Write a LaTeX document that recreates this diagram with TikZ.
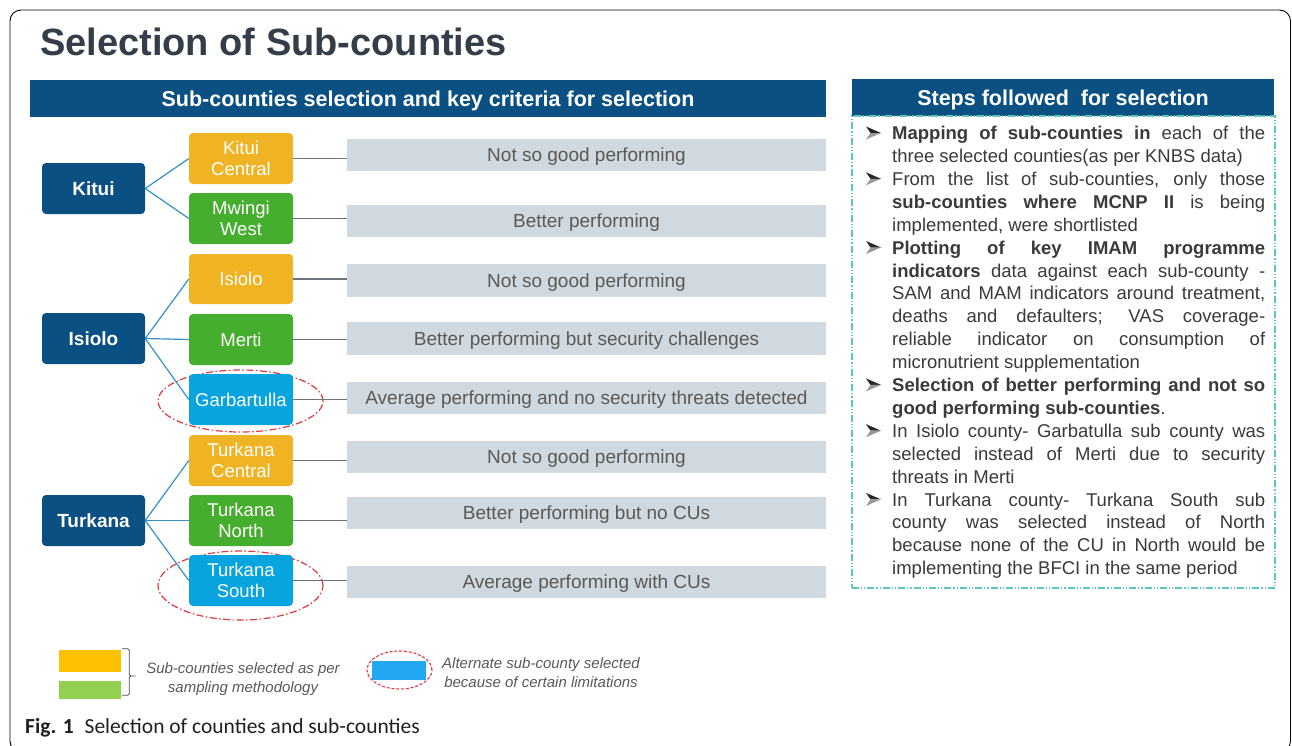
\documentclass[tikz,border=0pt]{standalone}
\usepackage{fontspec}
\setmainfont{Liberation Sans}
\newfontfamily\capfont{Carlito}
\usetikzlibrary{shapes.geometric}

\definecolor{navy}{HTML}{0B5083}
\definecolor{titlegray}{HTML}{333E48}
\definecolor{subOrange}{HTML}{EFB324}
\definecolor{subGreen}{HTML}{46AE2E}
\definecolor{subBlue}{HTML}{08A4E0}
\definecolor{barfill}{HTML}{CFD9DF}
\definecolor{bartext}{HTML}{595959}
\definecolor{linkblue}{HTML}{3591C4}
\definecolor{linegray}{HTML}{6E747A}
\definecolor{redring}{HTML}{E0393E}
\definecolor{stepteal}{HTML}{5BC8BA}
\definecolor{bodytext}{HTML}{3A3A3A}
\definecolor{legOrange}{HTML}{FFC000}
\definecolor{legGreen}{HTML}{92D050}
\definecolor{legBlue}{HTML}{22A8F3}
\definecolor{captext}{HTML}{231F20}

% room for the bullet at the start of each step; the arrowheads are drawn in TikZ
\newcommand\stepitem{\par\hangindent=26pt\hangafter=1\noindent\makebox[26pt][l]{}}

\tikzset{
  county/.style={rounded corners=4pt, fill=navy, text=white,
    font=\bfseries\fontsize{19}{21}\selectfont,
    minimum width=103pt, minimum height=51pt, inner sep=0pt},
  subbox/.style={rounded corners=4pt, text=white, align=center,
    font=\fontsize{18.5}{20.5}\selectfont,
    minimum width=104pt, minimum height=51pt, inner sep=0pt},
  crit/.style={fill=barfill, text=bartext, font=\fontsize{19}{21}\selectfont,
    text height=13.6pt, text depth=0pt,
    minimum width=479pt, minimum height=32pt, inner sep=0pt},
  link/.style={draw=linkblue, line width=1.2pt},
  tie/.style={draw=linegray, line width=1.3pt},
  ring/.style={ellipse, draw=redring, line width=1.2pt,
    dash pattern=on 7pt off 2.5pt on 1.5pt off 2.5pt, inner sep=0pt},
  hdr/.style={fill=navy, text=white, font=\bfseries\fontsize{21.5}{24}\selectfont,
    text height=15.4pt, text depth=0pt, inner sep=0pt, minimum height=37pt},
  legnote/.style={text=bartext, align=center, font=\itshape\fontsize{15}{18.5}\selectfont, inner sep=0pt},
  bulletdark/.style={fill=black!85},
  bulletlight/.style={fill=black!40},
}

\begin{document}
\begin{tikzpicture}[x=1pt,y=-1pt]
\useasboundingbox (0,0) rectangle (1292,745);
\clip (0,0) rectangle (1292,745);
\fill[white] (0,0) rectangle (1292,745);

% outer frame
\draw[line width=0.9pt, rounded corners=11pt] (10,10) rectangle (1290.5,752);

% title
\node[anchor=base west, inner sep=0pt, text=titlegray,
  font=\bfseries\fontsize{38}{40}\selectfont] (title) at (40,55) {Selection of Sub-counties};

% header bars
\node[hdr, minimum width=796pt] (lefthdr) at (428,98.5)
  {Sub-counties selection and key criteria for selection};
\node[hdr, minimum width=422pt] (righthdr) at (1063,97.5)
  {Steps followed\ \ for selection};

% red rings marking the alternate sub-counties
\node[ring, minimum width=165pt, minimum height=62pt] (gaRing) at (240.5,401) {};
\node[ring, minimum width=165pt, minimum height=69pt] (tsRing) at (240.5,585.5) {};

% counties
\node[county] (kitui) at (93.5,188.5) {Kitui};
\node[county] (isiolo) at (93.5,338.5) {Isiolo};
\node[county] (turkana) at (93.5,520.5) {Turkana};

% sub-counties
\node[subbox, fill=subOrange] (kc) at (241,158.5) {Kitui\\Central};
\node[subbox, fill=subGreen]  (mw) at (241,218.5) {Mwingi\\West};
\node[subbox, fill=subOrange, minimum height=50pt] (is) at (241,279) {Isiolo};
\node[subbox, fill=subGreen]  (me) at (241,339.5) {Merti};
\node[subbox, fill=subBlue]   (ga) at (241,399.5) {Garbartulla};
\node[subbox, fill=subOrange] (tc) at (241,460.5) {Turkana\\Central};
\node[subbox, fill=subGreen]  (tn) at (241,520.5) {Turkana\\North};
\node[subbox, fill=subBlue]   (ts) at (241,580.5) {Turkana\\South};

% selection criteria
\node[crit] (kcBar) at (586.5,155) {Not so good performing};
\node[crit] (mwBar) at (586.5,221) {Better performing};
\node[crit, minimum height=33pt] (isBar) at (586.5,280.5) {Not so good performing};
\node[crit, minimum height=33pt] (meBar) at (586.5,338.5) {Better performing but security challenges};
\node[crit] (gaBar) at (586.5,398) {Average performing and no security threats detected};
\node[crit] (tcBar) at (586.5,457) {Not so good performing};
\node[crit] (tnBar) at (586.5,513) {Better performing but no CUs};
\node[crit] (tsBar) at (586.5,582) {Average performing with CUs};

% county to sub-county links
\draw[link] (kitui.east) -- (kc.west);
\draw[link] (kitui.east) -- (mw.west);
\draw[link] (isiolo.east) -- (is.west);
\draw[link] (isiolo.east) -- (me.west);
\draw[link] (isiolo.east) -- (ga.west);
\draw[link] (turkana.east) -- (tc.west);
\draw[link] (turkana.east) -- (tn.west);
\draw[link] (turkana.east) -- (ts.west);

% sub-county to criterion ties
\foreach \s in {kc,mw,is,me,ga,tc,tn,ts}
  \draw[tie] (\s.east) -- (\s.east -| \s Bar.west);

% steps panel
\node[draw=stepteal, line width=1.2pt, fill=white,
  dash pattern=on 7pt off 2pt on 1.2pt off 2pt on 1.2pt off 2pt,
  minimum width=423pt, minimum height=472pt, inner sep=0pt] (stepsframe) at (1063.5,352) {};

\node[anchor=north west, inner sep=0pt, text width=399pt, align=justify, text=bodytext,
  font=\fontsize{18.5}{22.9}\selectfont] (steps) at (866,116.5) {%
\stepitem\rule{0pt}{16pt}\textbf{Mapping of sub-counties in} each of the\linebreak
three selected counties(as per KNBS data)
\stepitem From the list of sub-counties, only those\linebreak
\textbf{sub-counties where MCNP II} is being\linebreak
implemented, were shortlisted
\stepitem\textbf{Plotting of key IMAM programme\linebreak
indicators} data against each sub-county -\linebreak
SAM and MAM indicators around treatment,\linebreak
deaths and defaulters; VAS coverage-\linebreak
reliable indicator on consumption of\linebreak
micronutrient supplementation
\stepitem\textbf{Selection of better performing and not so\linebreak
good performing sub-counties}.
\stepitem In Isiolo county- Garbatulla sub county was\linebreak
selected instead of Merti due to security\linebreak
threats in Merti
\stepitem In Turkana county- Turkana South sub\linebreak
county was selected instead of North\linebreak
because none of the CU in North would be\linebreak
implementing the BFCI in the same period\par};

% arrowhead bullets, on the first line of each step
\begin{scope}[shift={(steps.north west)}]
  \foreach \k in {0,2,5,11,13,16} {
    \pgfmathsetmacro\by{16.5+\k*22.9}
    \fill[bulletdark] (0,\by-6.5) -- (15,\by) -- (4.5,\by) -- cycle;
    \fill[bulletlight] (4.5,\by) -- (15,\by) -- (0,\by+6.5) -- cycle;
  }
\end{scope}

% legend
\node[fill=legOrange, minimum width=62pt, minimum height=22pt, inner sep=0pt] (legO) at (90,661) {};
\node[fill=legGreen, minimum width=62pt, minimum height=18pt, inner sep=0pt] (legG) at (90,690) {};
\coordinate (braceTip) at (135,676);
\draw[black!70, line width=0.8pt, rounded corners=1.5pt]
  (legO.north east) ++(1,-1) -- ++(7,0) |- ([xshift=-1pt]braceTip) -- (braceTip)
  ([xshift=-1pt]braceTip) -| ([xshift=8pt,yshift=4pt]legG.south east) -- ([xshift=1pt,yshift=4pt]legG.south east);
\node[legnote] (legNoteA) at (243,679) {Sub-counties selected as per\\sampling methodology};

\node[fill=legBlue, minimum width=54pt, minimum height=19pt, inner sep=0pt] (legB) at (399,670.5) {};
\node[ellipse, draw=redring, line width=1.1pt, dash pattern=on 3pt off 1.8pt,
  minimum width=65pt, minimum height=38pt, inner sep=0pt] (legRing) at (399.5,670) {};
\node[legnote] (legNoteB) at (541,672.5) {Alternate sub-county selected\\because of certain limitations};

% caption
\node[anchor=base west, inner sep=0pt, text=captext, font=\capfont\fontsize{21.5}{24}\selectfont]
  (caption) at (25,733) {\textbf{Fig. 1}\hspace{11pt}Selection of counties and sub-counties};
\end{tikzpicture}
\end{document}
